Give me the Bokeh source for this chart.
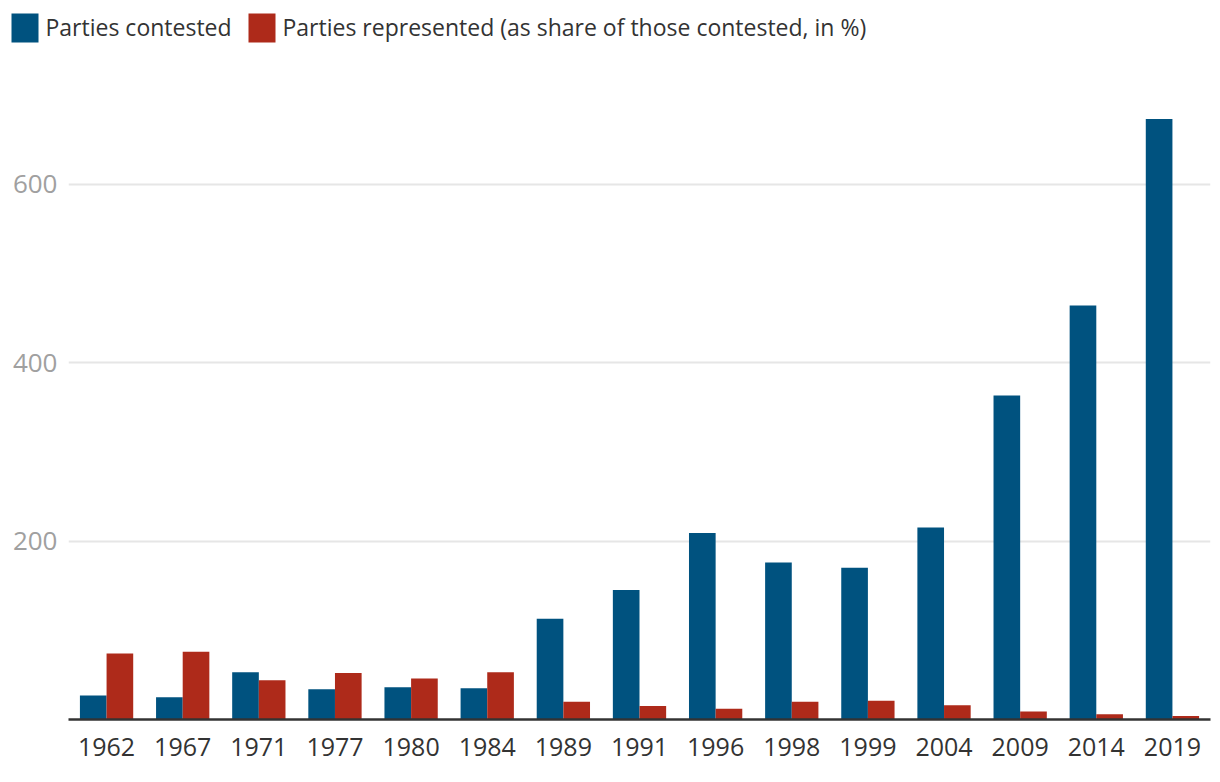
from bokeh.plotting import figure
from bokeh.models import ColumnDataSource, FactorRange, Range1d, FixedTicker
from bokeh.layouts import column
from bokeh.transform import dodge
from bokeh.core.properties import value
from bokeh.embed import file_html
from bokeh.resources import INLINE

years = ["1962", "1967", "1971", "1977", "1980", "1984", "1989", "1991",
         "1996", "1998", "1999", "2004", "2009", "2014", "2019"]
contested = [27, 25, 53, 34, 36, 35, 113, 145, 209, 176, 170, 215, 363, 464, 673]
represented = [74, 76, 44, 52, 46, 53, 20, 15, 12, 20, 21, 16, 9, 6, 4]
y_ticks = [200, 400, 600]
series_names = ["Parties contested", "Parties represented (as share of those contested, in %)"]

BLUE = "#00527f"
RED = "#ae2a1a"
FONT = "Open Sans"

# ---- legend strip (pixel-like coordinates, y grows downward) ----
leg = figure(width=1220, height=100, x_range=Range1d(0, 1220), y_range=Range1d(100, 0),
             output_backend="svg", toolbar_location=None,
             min_border=0, min_border_left=0, min_border_right=0, min_border_top=0, min_border_bottom=0)
leg.frame_align = False
leg.axis.visible = False
leg.grid.visible = False
leg.outline_line_color = None
sw_left = [11, 248]
leg.quad(left=sw_left, right=[s + 27 for s in sw_left], top=[13, 13], bottom=[42, 42],
         fill_color=[BLUE, RED], line_color=None)
leg.text(x=[s + 34 for s in sw_left], y=[26.5, 26.5], text=series_names,
         text_font=value(FONT), text_font_size="23px", text_color="#333333",
         text_baseline="middle", text_align="left")

# ---- main chart ----
source = ColumnDataSource(dict(year=years, contested=contested, represented=represented))

p = figure(x_range=FactorRange(*years, range_padding=0), y_range=Range1d(0, 693.6),
           width=1220, height=682, output_backend="svg", toolbar_location=None,
           min_border_left=68, min_border_right=10, min_border_top=0, min_border_bottom=63)
p.frame_align = False
p.outline_line_color = None

p.vbar(x=dodge("year", -0.175, range=p.x_range), top="contested", width=0.35,
       source=source, fill_color=BLUE, line_color=None)
p.vbar(x=dodge("year", 0.175, range=p.x_range), top="represented", width=0.35,
       source=source, fill_color=RED, line_color=None)

p.xgrid.grid_line_color = None
p.ygrid.grid_line_color = "#e6e6e6"
p.ygrid.grid_line_width = 2
p.yaxis.ticker = FixedTicker(ticks=y_ticks)
p.ygrid.ticker = FixedTicker(ticks=y_ticks)

p.yaxis.axis_line_color = None
p.yaxis.major_tick_line_color = None
p.yaxis.minor_tick_line_color = None
p.yaxis.major_label_text_color = "#a0a0a0"
p.yaxis.major_label_text_font = FONT
p.yaxis.major_label_text_font_size = "26px"
p.yaxis.major_label_standoff = 5

p.xaxis.axis_line_color = "#333333"
p.xaxis.axis_line_width = 2.5
p.xaxis.major_tick_line_color = None
p.xaxis.minor_tick_line_color = None
p.xaxis.major_label_text_color = "#333333"
p.xaxis.major_label_text_font = FONT
p.xaxis.major_label_text_font_size = "25px"
p.xaxis.major_label_standoff = 12

layout = column(leg, p, spacing=0)
open("out.html", "w").write(file_html(layout, INLINE))
